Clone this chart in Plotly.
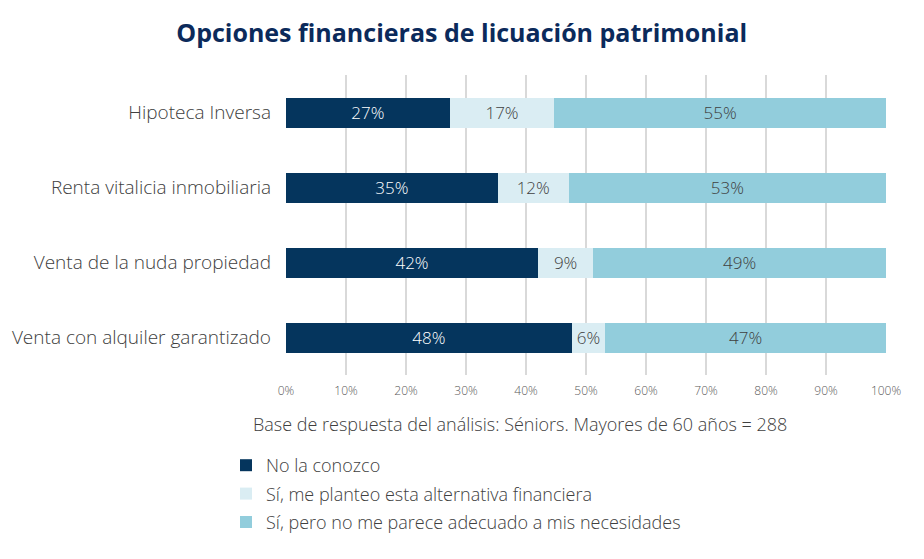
import plotly.graph_objects as go

categories = ["Hipoteca Inversa", "Renta vitalicia inmobiliaria", "Venta de la nuda propiedad", "Venta con alquiler garantizado"]
no_conozco = [27.3, 35.3, 42.0, 47.6]
si_planteo = [17.4, 11.8, 9.2, 5.6]
si_no_adecuado = [55.3, 52.9, 48.8, 46.8]
series_names = ["No la conozco", "Sí, me planteo esta alternativa financiera", "Sí, pero no me parece adecuado a mis necesidades"]
x_ticks = [0, 10, 20, 30, 40, 50, 60, 70, 80, 90, 100]
x_tick_labels = [f"{v}%" for v in x_ticks]

colors = ["#05355D", "#DAEDF3", "#92CDDC"]
text_colors = ["white", "#404040", "#404040"]
FONT = "Open Sans"

fig = go.Figure()
for i, (name, vals) in enumerate(zip(series_names, [no_conozco, si_planteo, si_no_adecuado])):
    fig.add_trace(go.Bar(
        y=categories, x=vals, name=name, orientation="h",
        marker=dict(color=colors[i], line=dict(width=0)),
        texttemplate="%{x:.0f}%", textposition="inside", insidetextanchor="middle",
        textfont=dict(color=text_colors[i], size=17, family=FONT, weight=300),
        width=0.4, legendgroup=f"g{i}",
    ))

fig.update_layout(
    barmode="stack",
    width=924, height=559,
    margin=dict(l=278, r=46, t=67, b=192, autoexpand=False),
    paper_bgcolor="white", plot_bgcolor="white",
    font=dict(family=FONT, color="#404040"),
    title=dict(text="Opciones financieras de licuación patrimonial",
               x=0.491, xref="container", xanchor="center", y=0.955, yref="container", yanchor="middle",
               font=dict(size=25, color="#0B2A5B", family=FONT, weight=700)),
    xaxis=dict(range=[0, 100], tickvals=x_ticks, ticktext=x_tick_labels,
               showgrid=True, gridcolor="#D9D9D9", gridwidth=1.5, zeroline=False,
               tickfont=dict(size=12, color="#595959", weight=300), ticklabelstandoff=7,
               fixedrange=True, ticks="", ticklen=0, automargin=False),
    yaxis=dict(categoryorder="array", categoryarray=categories, autorange="reversed",
               tickfont=dict(size=19, color="#404040", weight=300), ticklabelstandoff=14,
               showgrid=False, automargin=False),
    legend=dict(orientation="v", x=-0.10, xanchor="left", y=-0.24, yanchor="top",
                font=dict(size=18, color="#404040", weight=300), tracegroupgap=2,
                itemwidth=30, bgcolor="rgba(0,0,0,0)"),
    bargap=0.6,
)
fig.add_annotation(text="Base de respuesta del análisis: Séniors. Mayores de 60 años = 288",
                   x=0.39, y=-0.163, xref="paper", yref="paper", showarrow=False,
                   xanchor="center", yanchor="middle", font=dict(size=18, color="#404040", weight=300))

fig.write_html("out.html")
